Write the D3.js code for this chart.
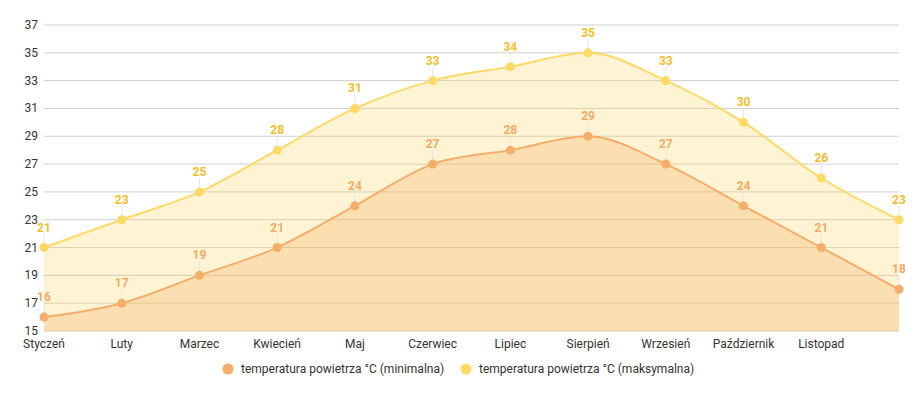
<!DOCTYPE html>
<html>
<head>
<meta charset="utf-8">
<script src="https://cdn.jsdelivr.net/npm/d3@7"></script>
<style>
  body { margin: 0; background: #fff; font-family: Roboto, "Noto Sans", sans-serif; }
  svg text { font-family: Roboto, "Noto Sans", sans-serif; }
</style>
</head>
<body>
<div id="chart"></div>
<script>
var months = ["Styczeń", "Luty", "Marzec", "Kwiecień", "Maj", "Czerwiec", "Lipiec", "Sierpień", "Wrzesień", "Październik", "Listopad", "Grudzień"];
var tempMin = [16, 17, 19, 21, 24, 27, 28, 29, 27, 24, 21, 18];
var tempMax = [21, 23, 25, 28, 31, 33, 34, 35, 33, 30, 26, 23];
var yTicks = [15, 17, 19, 21, 23, 25, 27, 29, 31, 33, 35, 37];
var xLabels = months.slice(0, 11);
var seriesNames = ["temperatura powietrza °C (minimalna)", "temperatura powietrza °C (maksymalna)"];

var width = 916, height = 393;
var margin = { left: 44, right: 17, top: 25, bottom: 62 };

var svg = d3.select('#chart').append('svg')
    .attr("width", width)
    .attr("height", height);

var x = d3.scalePoint()
    .domain(months)
    .range([margin.left, width - margin.right]);

var y = d3.scaleLinear()
    .domain([15, 37])
    .range([height - margin.bottom, margin.top]);

// Grid lines
svg.append("g")
    .selectAll("line")
    .data(yTicks)
    .enter().append("line")
    .attr("x1", margin.left)
    .attr("x2", width - margin.right)
    .attr("y1", d => y(d))
    .attr("y2", d => y(d))
    .attr("stroke", "#cfcfcf")
    .attr("stroke-width", 1);

// Y axis labels
svg.append("g")
    .selectAll("text")
    .data(yTicks)
    .enter().append("text")
    .attr("x", 38)
    .attr("y", d => y(d) + 4)
    .attr("text-anchor", "end")
    .attr("font-size", 12)
    .attr("fill", "#333")
    .text(d => d);

// X axis labels
svg.append("g")
    .selectAll("text")
    .data(xLabels)
    .enter().append("text")
    .attr("x", d => x(d))
    .attr("y", height - margin.bottom + 17)
    .attr("text-anchor", "middle")
    .attr("font-size", 12)
    .attr("fill", "#333")
    .text(d => d);

var series = [
    { name: seriesNames[1], values: tempMax, line: "#fed966", fill: "rgba(253,215,100,0.28)", label: "#f4bd2c" },
    { name: seriesNames[0], values: tempMin, line: "#f5ad6a", fill: "rgba(246,180,100,0.32)", label: "#f3ab66" }
];

var area = d3.area()
    .x((d, i) => x(months[i]))
    .y0(y(15))
    .y1(d => y(d))
    .curve(d3.curveMonotoneX);

var line = d3.line()
    .x((d, i) => x(months[i]))
    .y(d => y(d))
    .curve(d3.curveMonotoneX);

series.forEach(function (s) {
    svg.append("path")
        .datum(s.values)
        .attr("d", area)
        .attr("fill", s.fill);
});

series.forEach(function (s) {
    svg.append("path")
        .datum(s.values)
        .attr("d", line)
        .attr("fill", "none")
        .attr("stroke", s.line)
        .attr("stroke-width", 2);

    var g = svg.append("g");

    // leader lines
    g.selectAll("line")
        .data(s.values)
        .enter().append("line")
        .attr("x1", (d, i) => x(months[i]))
        .attr("x2", (d, i) => x(months[i]))
        .attr("y1", d => y(d) - 14)
        .attr("y2", d => y(d) - 4)
        .attr("stroke", "#e6e6e6")
        .attr("stroke-width", 1);

    g.selectAll("circle")
        .data(s.values)
        .enter().append("circle")
        .attr("cx", (d, i) => x(months[i]))
        .attr("cy", d => y(d))
        .attr("r", 4.5)
        .attr("fill", s.line);

    g.selectAll("text")
        .data(s.values)
        .enter().append("text")
        .attr("x", (d, i) => x(months[i]))
        .attr("y", d => y(d) - 16)
        .attr("text-anchor", "middle")
        .attr("font-size", 12)
        .attr("font-weight", "bold")
        .attr("fill", s.label)
        .text(d => d);
});

// Legend
var legend = [
    { name: seriesNames[0], color: "#f5ad6a", x: 228 },
    { name: seriesNames[1], color: "#fed966", x: 466 }
];

var lg = svg.append("g")
    .selectAll("g")
    .data(legend)
    .enter().append("g")
    .attr("transform", d => "translate(" + d.x + ",369)");

lg.append("circle")
    .attr("r", 5.5)
    .attr("fill", d => d.color);

lg.append("text")
    .attr("x", 13)
    .attr("y", 4)
    .attr("font-size", 12)
    .attr("fill", "#333")
    .text(d => d.name);
</script>
</body>
</html>
